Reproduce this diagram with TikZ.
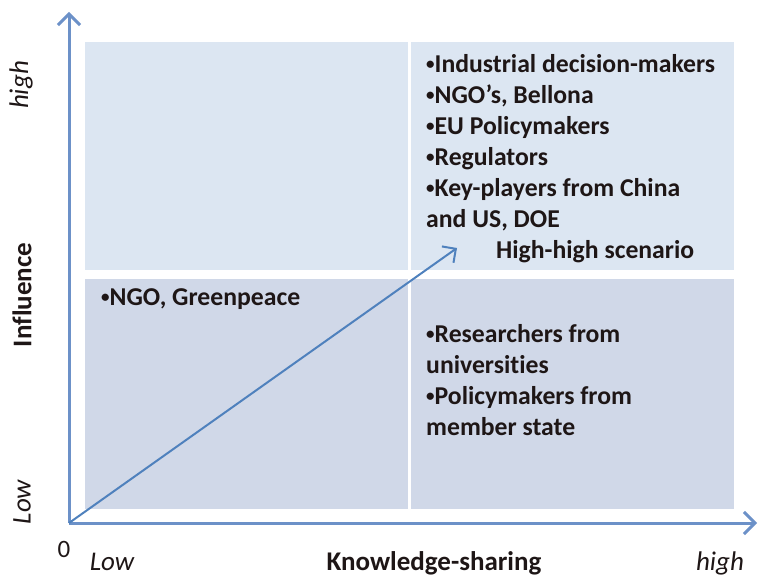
\documentclass[tikz,border=0pt]{standalone}
\usepackage{fontspec}
\setmainfont{Carlito}[Ligatures=NoCommon]
\usetikzlibrary{arrows.meta}
\definecolor{quadtop}{RGB}{220,230,242}
\definecolor{quadlow}{RGB}{208,216,232}
\definecolor{axisblue}{RGB}{108,145,200}
\definecolor{arrowblue}{RGB}{79,129,189}
\definecolor{textdark}{RGB}{30,22,22}
\newcommand{\qbul}{{\fontsize{17}{17}\selectfont\raisebox{3pt}{•}}}
\tikzset{
  axisline/.style={axisblue, line width=3pt, -{Straight Barb[length=11pt,width=22pt]}},
  scenarioline/.style={arrowblue, line width=2pt, -{Straight Barb[length=10pt,width=20pt]}},
  quadtext/.style={font=\bfseries\fontsize{25.7}{31}\selectfont, text=textdark, align=left, anchor=north west, inner sep=0pt},
  axisbold/.style={font=\bfseries\fontsize{27}{31}\selectfont, text=textdark, inner sep=0pt},
  axisitalic/.style={font=\itshape\fontsize{27}{31}\selectfont, text=textdark, inner sep=0pt}
}
\begin{document}
\begin{tikzpicture}[x=1pt,y=-1pt]
  \useasboundingbox (0,0) rectangle (759,577);
  % the four quadrants
  \fill[quadtop] (85,42) rectangle (408,270);
  \fill[quadtop] (411,42) rectangle (734,270);
  \fill[quadlow] (85,279) rectangle (408,509);
  \fill[quadlow] (411,279) rectangle (734,509);
  % axes
  \coordinate (origin) at (69,523);
  \coordinate (ytip) at (69,12);
  \coordinate (xtip) at (757,523);
  \coordinate (scenario) at (457,248);
  \draw[axisline] (origin) -- (ytip);
  \draw[axisline] (origin) -- (xtip);
  \draw[scenarioline] (origin) -- (scenario);
  % quadrant texts
  \node[quadtext] (hihi) at (426,54) {\qbul Industrial decision-makers\\\qbul NGO’s, Bellona\\\qbul EU Policymakers\\\qbul Regulators\\\qbul Key-players from China\\and US, DOE\\\hspace*{70pt}High-high scenario};
  \node[quadtext] (lohi) at (101,288) {\qbul NGO, Greenpeace};
  \node[quadtext] (hilo) at (426,324) {\qbul Researchers from\\universities\\\qbul Policymakers from\\member state};
  % axis labels
  \node[axisitalic, rotate=90] (yhigh) at (21,85) {high};
  \node[axisbold, rotate=90] (yname) at (22,295) {Influence};
  \node[axisitalic, rotate=90] (ylow) at (22,502) {Low};
  \node[font=\fontsize{25}{30}\selectfont, text=textdark, inner sep=0pt, anchor=base] (zero) at (64,557) {0};
  \node[axisitalic, anchor=base] (xlow) at (112,570) {Low};
  \node[axisbold, anchor=base] (xname) at (434,570) {Knowledge-sharing};
  \node[axisitalic, anchor=base] (xhigh) at (720,570) {high};
\end{tikzpicture}
\end{document}
